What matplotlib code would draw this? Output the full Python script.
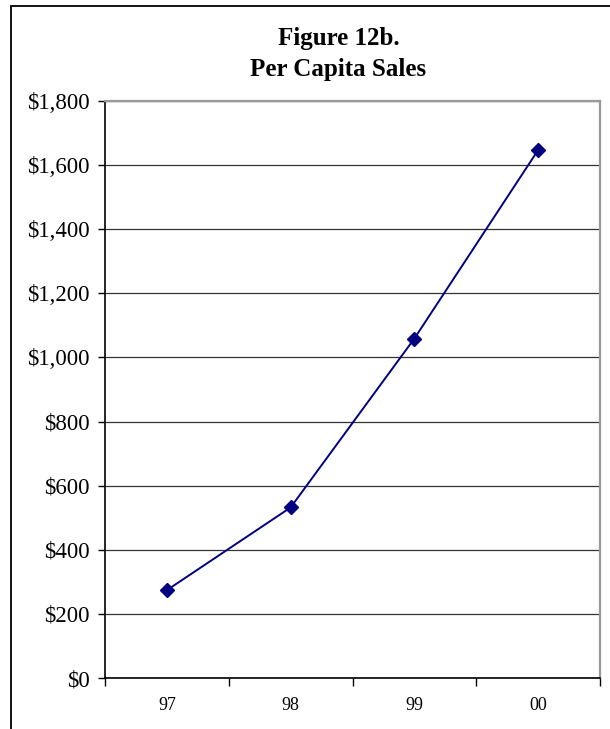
import matplotlib.pyplot as plt
from matplotlib.ticker import FuncFormatter, FixedLocator
from matplotlib.patches import Rectangle

years = ['97', '98', '99', '00']
per_capita_sales = [274, 532, 1059, 1647]

plt.rcParams['font.family'] = ['Liberation Serif', 'DejaVu Serif']

fig = plt.figure(figsize=(6.10, 7.29), dpi=100)

# outer chart border (runs off the right and bottom edges)
fig.add_artist(Rectangle((11 / 610, -0.05), 1.2, 1 - 6 / 729 + 0.05,
                         transform=fig.transFigure, fill=False,
                         edgecolor='black', linewidth=1.3))

ax = fig.add_axes([105 / 610, 1 - 678 / 729, 495 / 610, 577 / 729])

x = range(len(years))
ax.plot(x, per_capita_sales, color='#000080', linewidth=1.4,
        marker='D', markersize=7, markerfacecolor='#000080',
        markeredgecolor='#000080', zorder=3)

ax.set_xlim(-0.5, len(years) - 0.5)
ax.set_ylim(0, 1800)
ax.set_yticks(range(0, 1801, 200))
ax.yaxis.set_major_formatter(FuncFormatter(lambda v, p: f'${v:,.0f}'))
ax.grid(axis='y', color='#333333', linewidth=0.9)
ax.set_axisbelow(True)

# category labels centred, tick marks on the boundaries
ax.set_xticks(list(x))
ax.set_xticklabels(years)
ax.tick_params(axis='x', which='major', length=0, pad=14, labelsize=13)
ax.xaxis.set_minor_locator(FixedLocator([i - 0.5 for i in range(len(years) + 1)]))
ax.tick_params(axis='x', which='minor', length=6, width=1, direction='out', color='black')
ax.tick_params(axis='y', length=5, width=1, direction='out', labelsize=16.5, pad=6)

for side in ['top', 'right']:
    ax.spines[side].set_color('#999999')
    ax.spines[side].set_linewidth(1.6)
for side in ['left', 'bottom']:
    ax.spines[side].set_color('black')
    ax.spines[side].set_linewidth(1.2)

fig.text(0.555, 1 - 54 / 729, 'Figure 12b.\nPer Capita Sales', ha='center', va='center',
         fontsize=18, fontweight='bold', linespacing=1.4)

fig.savefig('out.png', dpi=100)
